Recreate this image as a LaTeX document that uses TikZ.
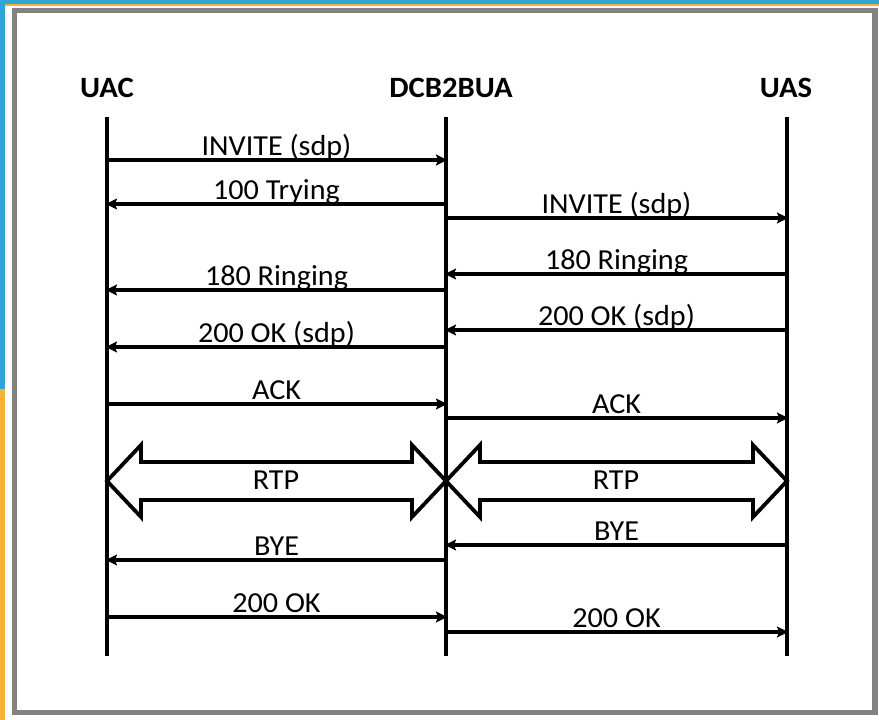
\documentclass[tikz,border=0pt]{standalone}
\usepackage{fontspec}
\setmainfont[FakeStretch=1.04]{Carlito}
\usetikzlibrary{arrows.meta}
\definecolor{frameblue}{HTML}{2FA7D6}
\definecolor{frameorange}{HTML}{F8B133}
\definecolor{framegray}{HTML}{858181}
\tikzset{
  head/.style={font=\fontsize{29.5}{33}\selectfont\bfseries, anchor=base, inner sep=0pt},
  life/.style={line width=4pt},
  msg/.style={line width=3.8pt, -{Stealth[length=11pt,width=11pt,inset=2pt]}, shorten >=-1pt},
  lbl/.style={font=\fontsize{29}{33}\selectfont, anchor=base, inner sep=0pt, yshift=5pt},
  rtp/.style={line width=3.8pt, line join=miter, fill=white}
}
\begin{document}
\begin{tikzpicture}[x=1pt,y=-1pt]
\useasboundingbox (0,0) rectangle (879,720);
% outer background frame
\fill[white] (0,0) rectangle (879,720);
\fill[frameblue] (0,0) rectangle (879,4);
\fill[frameorange] (0,4) rectangle (879,6);
\fill[frameblue] (0,0) rectangle (5,389);
\fill[frameorange] (0,389) rectangle (5,720);
\draw[framegray, line width=5.5pt] (14.5,10.5) rectangle (875,712.5);

% headers
\node[head] (uac) at (107,97) {UAC};
\node[head] (dcb) at (451,97) {DCB2BUA};
\node[head] (uas) at (786,97) {UAS};

% lifelines
\coordinate (uacT) at (107,117); \coordinate (uacB) at (107,656);
\coordinate (dcbT) at (446,117); \coordinate (dcbB) at (446,656);
\coordinate (uasT) at (787,117); \coordinate (uasB) at (787,656);
\draw[life] (uacT) -- (uacB);
\draw[life] (dcbT) -- (dcbB);
\draw[life] (uasT) -- (uasB);

% message endpoints
\foreach \n/\y in {m1/160,m2/204,m3/218,m4/274,m5/290,m6/330,m7/347,m8/404,m9/418,m10/545,m11/560,m12/617,m13/632}{
  \coordinate (\n a) at (107,\y);
  \coordinate (\n b) at (446,\y);
  \coordinate (\n c) at (787,\y);
}

\draw[msg] (m1a) -- node[lbl] {INVITE (sdp)} (m1b);
\draw[msg] (m2b) -- node[lbl] {100 Trying} (m2a);
\draw[msg] (m3b) -- node[lbl] {INVITE (sdp)} (m3c);
\draw[msg] (m4c) -- node[lbl] {180 Ringing} (m4b);
\draw[msg] (m5b) -- node[lbl] {180 Ringing} (m5a);
\draw[msg] (m6c) -- node[lbl] {200 OK (sdp)} (m6b);
\draw[msg] (m7b) -- node[lbl] {200 OK (sdp)} (m7a);
\draw[msg] (m8a) -- node[lbl] {ACK} (m8b);
\draw[msg] (m9b) -- node[lbl] {ACK} (m9c);
\draw[msg] (m10c) -- node[lbl] {BYE} (m10b);
\draw[msg] (m11b) -- node[lbl] {BYE} (m11a);
\draw[msg] (m12a) -- node[lbl] {200 OK} (m12b);
\draw[msg] (m13b) -- node[lbl] {200 OK} (m13c);

% RTP double arrows
\draw[rtp] (107,481) -- (141,445) -- (141,462) -- (412,462) -- (412,445) -- (446,481)
  -- (412,517) -- (412,500) -- (141,500) -- (141,517) -- cycle;
\draw[rtp] (446,481) -- (480,445) -- (480,462) -- (753,462) -- (753,445) -- (787,481)
  -- (753,517) -- (753,500) -- (480,500) -- (480,517) -- cycle;
\node[font=\fontsize{29}{33}\selectfont, inner sep=0pt] (rtp1) at (276,480) {RTP};
\node[font=\fontsize{29}{33}\selectfont, inner sep=0pt] (rtp2) at (616,480) {RTP};
\end{tikzpicture}
\end{document}
